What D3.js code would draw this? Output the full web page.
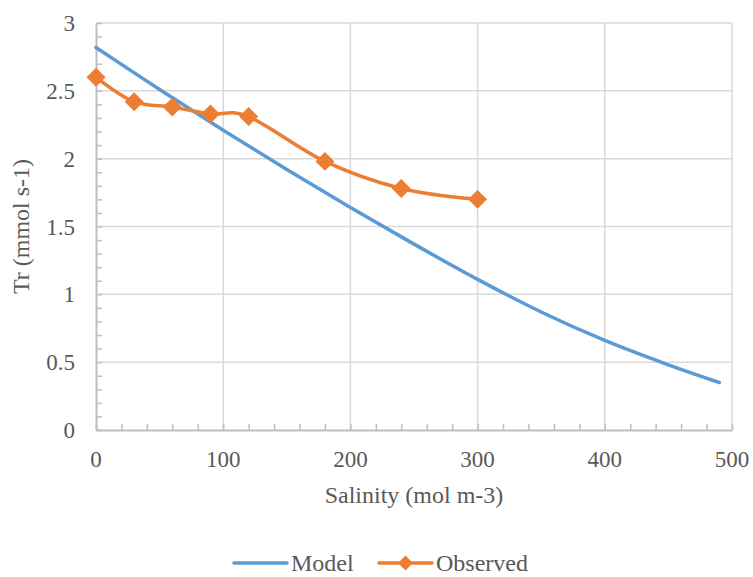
<!DOCTYPE html>
<html>
<head>
<meta charset="utf-8">
<script src="https://cdn.jsdelivr.net/npm/d3@7"></script>
<style>
  body { margin: 0; background: #fff; }
  text { font-family: "Liberation Serif", "Times New Roman", serif; fill: #595959; }
</style>
</head>
<body>
<div id="chart"></div>
<script>
// model curve
var modelSalinity = [0, 50, 100, 150, 200, 250, 300, 350, 400, 450, 490];
var modelTr       = [2.82, 2.51, 2.21, 1.92, 1.64, 1.37, 1.11, 0.87, 0.66, 0.48, 0.35];

// observed points
var obsSalinity = [0, 30, 60, 90, 120, 180, 240, 300];
var obsTr       = [2.60, 2.42, 2.38, 2.33, 2.31, 1.98, 1.78, 1.70];

var xTicks = [0, 100, 200, 300, 400, 500];
var yTicks = [0, 0.5, 1, 1.5, 2, 2.5, 3];

var chart_width = 753, chart_height = 577;
var plotLeft = 96, plotRight = 732, plotTop = 23, plotBottom = 430;

var svg = d3.select("#chart").append("svg")
    .attr("width", chart_width)
    .attr("height", chart_height);

var x = d3.scaleLinear().domain([0, 500]).range([plotLeft, plotRight]);
var y = d3.scaleLinear().domain([0, 3]).range([plotBottom, plotTop]);

// gridlines
svg.append("g").selectAll("line")
    .data(yTicks.slice(1))
    .enter().append("line")
    .attr("x1", plotLeft).attr("x2", plotRight)
    .attr("y1", d => y(d)).attr("y2", d => y(d))
    .attr("stroke", "#d9d9d9").attr("stroke-width", 1.5);

svg.append("g").selectAll("line")
    .data(xTicks.slice(1))
    .enter().append("line")
    .attr("x1", d => x(d)).attr("x2", d => x(d))
    .attr("y1", plotTop).attr("y2", plotBottom)
    .attr("stroke", "#d9d9d9").attr("stroke-width", 1.5);

// minor ticks
var xMinor = d3.range(0, 501, 20);
var yMinor = d3.range(0, 31).map(d => d / 10);

var xAxis = d3.axisBottom(x).tickValues(xMinor).tickSize(-6).tickFormat("").tickSizeOuter(0);
svg.append("g")
    .attr("transform", "translate(0," + plotBottom + ")")
    .call(xAxis)
    .call(g => g.selectAll("line").attr("stroke", "#bfbfbf").attr("stroke-width", 1.5))
    .call(g => g.select(".domain").attr("stroke", "#bfbfbf").attr("stroke-width", 2));

var yAxis = d3.axisLeft(y).tickValues(yMinor).tickSize(-6).tickFormat("").tickSizeOuter(0);
svg.append("g")
    .attr("transform", "translate(" + plotLeft + ",0)")
    .call(yAxis)
    .call(g => g.selectAll("line").attr("stroke", "#bfbfbf").attr("stroke-width", 1.5))
    .call(g => g.select(".domain").attr("stroke", "#bfbfbf").attr("stroke-width", 2));

// tick labels
svg.append("g").selectAll("text")
    .data(xTicks)
    .enter().append("text")
    .attr("x", d => x(d))
    .attr("y", 467)
    .attr("text-anchor", "middle")
    .style("font-size", "23px")
    .text(d => d);

svg.append("g").selectAll("text")
    .data(yTicks)
    .enter().append("text")
    .attr("x", 75)
    .attr("y", d => y(d))
    .attr("dy", "0.35em")
    .attr("text-anchor", "end")
    .style("font-size", "23px")
    .text(d => d);

// axis titles
svg.append("text")
    .attr("x", (plotLeft + plotRight) / 2)
    .attr("y", 503)
    .attr("text-anchor", "middle")
    .style("font-size", "24px")
    .text("Salinity (mol m-3)");

svg.append("text")
    .attr("transform", "translate(29," + ((plotTop + plotBottom) / 2) + ") rotate(-90)")
    .attr("text-anchor", "middle")
    .style("font-size", "24px")
    .text("Tr (mmol s-1)");

// series
var modelData = modelSalinity.map((s, i) => ({ s: s, t: modelTr[i] }));
var obsData = obsSalinity.map((s, i) => ({ s: s, t: obsTr[i] }));

var line = d3.line()
    .x(d => x(d.s))
    .y(d => y(d.t))
    .curve(d3.curveCardinal);

svg.append("path")
    .datum(modelData)
    .attr("d", line)
    .attr("fill", "none")
    .attr("stroke", "#5b9bd5")
    .attr("stroke-width", 3.5)
    .attr("stroke-linecap", "round");

svg.append("path")
    .datum(obsData)
    .attr("d", line)
    .attr("fill", "none")
    .attr("stroke", "#ed7d31")
    .attr("stroke-width", 3.5)
    .attr("stroke-linecap", "round");

var diamond = d3.symbol().type(d3.symbolSquare).size(180);

svg.append("g").selectAll("path")
    .data(obsData)
    .enter().append("path")
    .attr("d", diamond)
    .attr("transform", d => "translate(" + x(d.s) + "," + y(d.t) + ") rotate(45)")
    .attr("fill", "#ed7d31");

// legend
var legY = 563;
svg.append("line")
    .attr("x1", 234).attr("x2", 287).attr("y1", legY).attr("y2", legY)
    .attr("stroke", "#5b9bd5").attr("stroke-width", 3.5).attr("stroke-linecap", "round");
svg.append("text")
    .attr("x", 291).attr("y", legY).attr("dy", "0.35em")
    .style("font-size", "24px")
    .text("Model");

svg.append("line")
    .attr("x1", 379).attr("x2", 432).attr("y1", legY).attr("y2", legY)
    .attr("stroke", "#ed7d31").attr("stroke-width", 3.5).attr("stroke-linecap", "round");
svg.append("path")
    .attr("d", d3.symbol().type(d3.symbolSquare).size(110))
    .attr("transform", "translate(405.5," + legY + ") rotate(45)")
    .attr("fill", "#ed7d31");
svg.append("text")
    .attr("x", 436).attr("y", legY).attr("dy", "0.35em")
    .style("font-size", "24px")
    .text("Observed");
</script>
</body>
</html>
